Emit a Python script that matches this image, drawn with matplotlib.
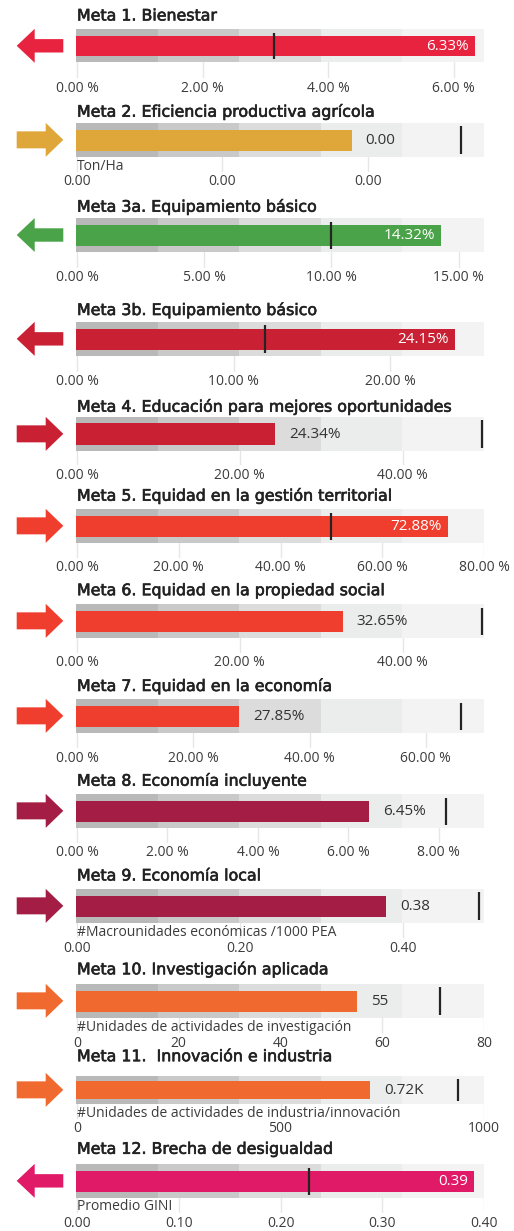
import matplotlib
matplotlib.use("Agg")
import matplotlib.pyplot as plt
from matplotlib.patches import Rectangle, Polygon
import matplotlib.patheffects as pe

# ---------------- data ----------------
titles = [
    "Meta 1. Bienestar",
    "Meta 2. Eficiencia productiva agrícola",
    "Meta 3a. Equipamiento básico",
    "Meta 3b. Equipamiento básico",
    "Meta 4. Educación para mejores oportunidades",
    "Meta 5. Equidad en la gestión territorial",
    "Meta 6. Equidad en la propiedad social",
    "Meta 7. Equidad en la economía",
    "Meta 8. Economía incluyente",
    "Meta 9. Economía local",
    "Meta 10. Investigación aplicada",
    "Meta 11.  Innovación e industria",
    "Meta 12. Brecha de desigualdad",
]
values = [6.33, 0.00189, 14.32, 24.15, 24.34, 72.88, 32.65, 27.85, 6.45, 0.38, 55, 720, 0.39]
targets = [3.14, 0.00264, 10.0, 12.0, 49.8, 50.0, 49.8, 66.0, 8.17, 0.494, 71.4, 937, 0.228]
axis_max = [6.48, 0.0028, 16.0, 26.0, 50.0, 80.0, 50.0, 70.0, 9.0, 0.5, 80.0, 1000.0, 0.40]
ticks = [
    [0, 2, 4, 6],
    [0, 0.001, 0.002],
    [0, 5, 10, 15],
    [0, 10, 20],
    [0, 20, 40],
    [0, 20, 40, 60, 80],
    [0, 20, 40],
    [0, 20, 40, 60],
    [0, 2, 4, 6, 8],
    [0, 0.2, 0.4],
    [0, 20, 40, 60, 80],
    [0, 500, 1000],
    [0, 0.1, 0.2, 0.3, 0.4],
]
tick_formats = ["{:.2f} %", "{:.2f}", "{:.2f} %", "{:.2f} %", "{:.2f} %", "{:.2f} %",
                "{:.2f} %", "{:.2f} %", "{:.2f} %", "{:.2f}", "{:.0f}", "{:.0f}", "{:.2f}"]
value_labels = ["6.33%", "0.00", "14.32%", "24.15%", "24.34%", "72.88%", "32.65%",
                "27.85%", "6.45%", "0.38", "55", "0.72K", "0.39"]
units = ["", "Ton/Ha", "", "", "", "", "", "", "",
         "#Macrounidades económicas /1000 PEA",
         "#Unidades de actividades de investigación",
         "#Unidades de actividades de industria/innovación",
         "Promedio GINI"]
directions = ["left", "right", "left", "left", "right", "right", "right", "right",
              "right", "right", "right", "right", "left"]

# ---------------- style / layout ----------------
colors = ["#e8233f", "#dfa73a", "#4aa348", "#c92033", "#c92033", "#ef3e2e", "#ef3e2e",
          "#ef3e2e", "#a31d44", "#a31d44", "#f06a30", "#f06a30", "#e01a67"]
# (title_y, band_top, band_bottom, unit_y, tick_y) in pixels
layout = [
    (16.0, 29.3, 62.3, None, 87.3),
    (111.7, 123.0, 156.7, 166.7, 180.7),
    (206.7, 218.3, 251.7, None, 276.7),
    (310.0, 322.0, 355.7, None, 380.7),
    (406.7, 416.7, 451.0, None, 474.0),
    (495.7, 509.0, 542.7, None, 566.7),
    (590.7, 604.0, 637.7, None, 661.7),
    (686.0, 699.0, 732.7, None, 757.3),
    (780.7, 794.0, 827.7, None, 851.7),
    (876.0, 889.0, 922.7, 932.7, 947.3),
    (969.3, 984.0, 1017.7, 1027.7, 1042.3),
    (1056.7, 1075.7, 1104.0, 1113.3, 1127.7),
    (1149.3, 1164.0, 1197.7, 1206.0, 1222.3),
]
band_colors = ["#b9b9b9", "#c9c9c9", "#dcdcdc", "#ebecec", "#f3f3f4"]
W, H = 514, 1231
AX_L, AX_R = 76.0, 484.0
TITLE_FONT = ["DejaVu Sans"]
TEXT_FONT = ["Open Sans", "DejaVu Sans"]
title_effect = [pe.withStroke(linewidth=0.45, foreground="#222222")]

fig = plt.figure(figsize=(W / 100, H / 100), dpi=100)
fig.patch.set_facecolor("white")

overlay = fig.add_axes([0, 0, 1, 1])
overlay.set_xlim(0, W)
overlay.set_ylim(H, 0)
overlay.axis("off")

for i in range(len(titles)):
    ty, bt, bb, uy, tky = layout[i]
    grid_bottom = tky - 9
    ax = fig.add_axes([AX_L / W, 1 - grid_bottom / H, (AX_R - AX_L) / W, (grid_bottom - bt) / H])
    xmax = axis_max[i]
    x0 = -xmax / (AX_R - AX_L - 1)
    ax.set_xlim(x0, xmax)
    ax.set_ylim(grid_bottom, bt)
    ax.set_facecolor("none")
    for s in ax.spines.values():
        s.set_visible(False)
    ax.set_yticks([])
    ax.set_xticks(ticks[i])
    ax.set_xticklabels([tick_formats[i].format(t) for t in ticks[i]],
                       fontsize=10, color="#3c3c3c", family=TEXT_FONT)
    ax.tick_params(axis="x", length=0, pad=2)
    ax.set_axisbelow(True)
    ax.grid(axis="x", color="#e6e6e6", linewidth=1.0)

    # qualitative bands (fifths of the axis)
    for k in range(5):
        left = x0 + (xmax - x0) * k / 5
        ax.add_patch(Rectangle((left, bt), (xmax - x0) / 5, bb - bt,
                               facecolor=band_colors[k], edgecolor="none", zorder=1))

    bh = (bb - bt) * 0.63
    bc = (bt + bb) / 2 + 0.3
    ax.barh([bc], [values[i] - x0], left=x0, height=bh, color=colors[i], zorder=2)
    ax.plot([targets[i], targets[i]], [bt + 3.5, bb - 3], color="#252423",
            linewidth=1.6, zorder=3, solid_capstyle="butt")

    frac = values[i] / xmax
    px_per = (AX_R - AX_L) / (xmax - x0)
    if frac > 0.85:
        ax.text(values[i] - 6 / px_per, bc, value_labels[i], ha="right", va="center",
                color="white", fontsize=11, family=TEXT_FONT, zorder=4)
    else:
        ax.text(values[i] + 14 / px_per, bc, value_labels[i], ha="left", va="center",
                color="#333333", fontsize=11, family=TEXT_FONT, zorder=4)

    if units[i]:
        ax.text(0, uy, units[i], ha="left", va="center", color="#3c3c3c",
                fontsize=10, family=TEXT_FONT, zorder=4, clip_on=False)

    overlay.text(77.0, ty, titles[i], ha="left", va="center", fontsize=11.4,
                 color="#222222", family=TITLE_FONT, path_effects=title_effect)

    # direction arrow
    cy = (bt + bb) / 2
    if directions[i] == "right":
        pts = [(16.7, cy - 8.5), (45.7, cy - 8.5), (45.7, cy - 17), (63.3, cy),
               (45.7, cy + 17), (45.7, cy + 8.5), (16.7, cy + 8.5)]
    else:
        pts = [(63.3, cy - 6.7), (34.7, cy - 6.7), (34.7, cy - 17), (16.7, cy),
               (34.7, cy + 17), (34.7, cy + 6.7), (63.3, cy + 6.7)]
    overlay.add_patch(Polygon(pts, closed=True, facecolor=colors[i], edgecolor="none"))

fig.savefig("out.png", dpi=100, facecolor="white")
